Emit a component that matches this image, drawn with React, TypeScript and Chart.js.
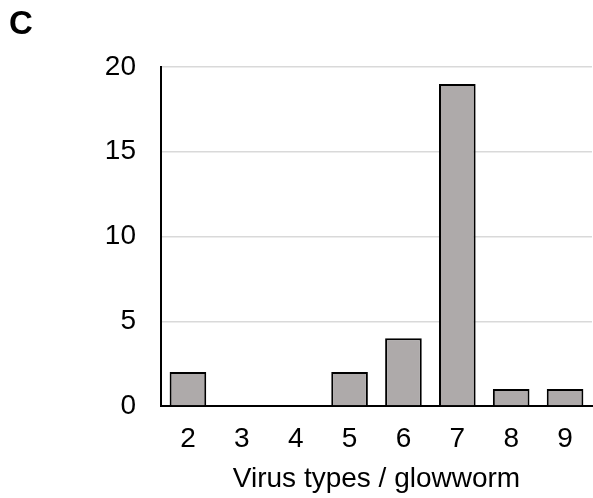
import React, { useEffect, useRef } from "react";
import { Chart, registerables } from "chart.js";

Chart.register(...registerables);

const categories = ["2", "3", "4", "5", "6", "7", "8", "9"];
const counts = [2, 0, 0, 2, 4, 19, 1, 1];
const yTicks = [0, 5, 10, 15, 20];
const panelLabel = "C";
const xTitle = "Virus types / glowworm";

const FONT = "'Liberation Sans', Arial, sans-serif";

export default function App() {
  const ref = useRef<HTMLCanvasElement | null>(null);
  useEffect(() => {
    if (!ref.current) return;
    const panelPlugin = {
      id: "panelLabel",
      afterDraw(chart: any) {
        const ctx = chart.ctx;
        ctx.save();
        ctx.font = `bold 33px ${FONT}`;
        ctx.fillStyle = "#000";
        ctx.textBaseline = "middle";
        ctx.textAlign = "left";
        ctx.fillText(panelLabel, 9, 25);
        ctx.restore();
      },
    };
    const chart = new Chart(ref.current, {
      type: "bar",
      data: {
        labels: categories,
        datasets: [
          {
            data: counts,
            backgroundColor: "#aeaaaa",
            borderColor: "#000",
            borderWidth: 2,
            barPercentage: 0.68,
            categoryPercentage: 1,
          },
        ],
      },
      options: {
        responsive: false,
        animation: false,
        layout: { padding: { left: 10, top: 67, right: 1, bottom: 2 } },
        plugins: { legend: { display: false }, tooltip: { enabled: false } },
        scales: {
          y: {
            min: 0,
            max: 20,
            afterFit: (s: any) => {
              s.width = 151;
            },
            afterBuildTicks: (s: any) => {
              s.ticks = yTicks.map((v) => ({ value: v }));
            },
            ticks: {
              color: "#000",
              font: { family: FONT, size: 28 },
              padding: 25,
            },
            grid: { color: "#d9d9d9", lineWidth: 1.5, drawTicks: false },
            border: { display: true, color: "#000", width: 2 },
          },
          x: {
            afterFit: (s: any) => {
              s.height = 90;
            },
            ticks: {
              color: "#000",
              font: { family: FONT, size: 28 },
              padding: 16,
            },
            grid: { display: false, drawTicks: false },
            border: { display: true, color: "#000", width: 2 },
            title: {
              display: true,
              text: xTitle,
              color: "#000",
              font: { family: FONT, size: 28 },
              padding: { top: 2, bottom: 0 },
            },
          },
        },
      },
      plugins: [panelPlugin],
    });
    return () => chart.destroy();
  }, []);
  return (
    <div style={{ position: "fixed", left: 0, top: 0, width: 593, height: 498, background: "#fff" }}>
      <canvas ref={ref} width={593} height={498} style={{ display: "block" }} />
    </div>
  );
}
